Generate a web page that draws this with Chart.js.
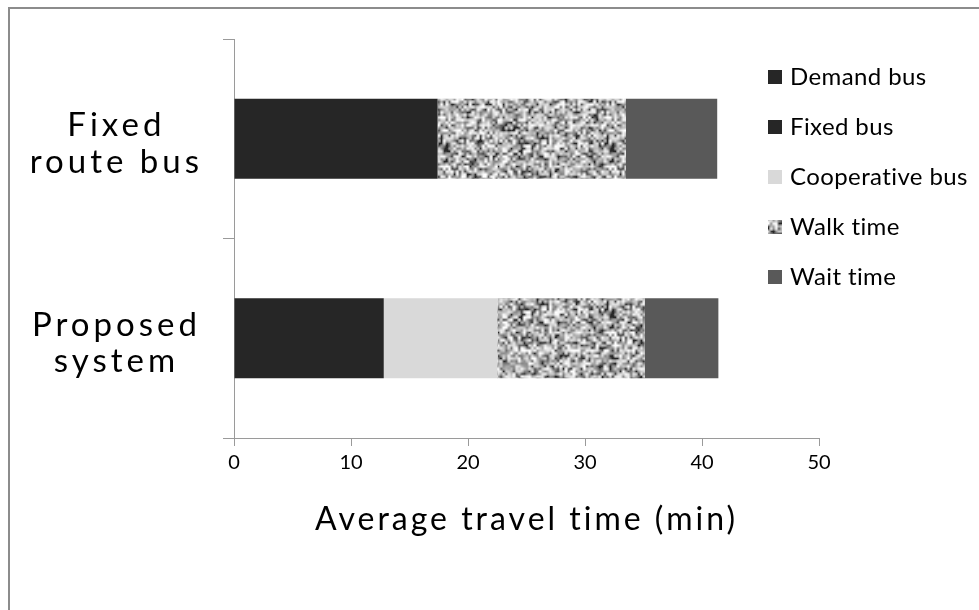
<!DOCTYPE html>
<html><head><meta charset="utf-8">
<script src="https://cdn.jsdelivr.net/npm/chart.js@4/dist/chart.umd.min.js"></script>
<style>html,body{margin:0;padding:0;background:#fff}#wrap{width:979px;height:610px;position:relative}</style>
</head><body><div id="wrap"><canvas id="c" width="979" height="610"></canvas></div>
<script>
// ---- data ----
const categories = [["Fixed", "route bus"], ["Proposed", "system"]];
const seriesNames = ["Demand bus", "Fixed bus", "Cooperative bus", "Walk time", "Wait time"];
const demandBus = [null, 12.8];
const fixedBus = [17.4, null];
const cooperativeBus = [null, 9.7];
const walkTime = [16.1, 12.6];
const waitTime = [7.8, 6.3];
const xMin = 0, xMax = 50, xStep = 10;
const xTitle = "Average travel time (min)";

// ---- styling ----
function makeNoise() {
  // deterministic, seamless speckle texture (styling only)
  let s = 987654321;
  const rnd = () => { s = (Math.imul(s, 1664525) + 1013904223) >>> 0; return s / 4294967296; };
  const n = 64, k = 2.6, T = Math.round(n * k);
  const base = new Float32Array(n * n);
  for (let i = 0; i < n * n; i++) base[i] = rnd();
  const tile = document.createElement('canvas'); tile.width = tile.height = T;
  const tc = tile.getContext('2d'); const img = tc.createImageData(T, T);
  for (let y = 0; y < T; y++) {
    for (let x = 0; x < T; x++) {
      const fx = x / k, fy = y / k;
      const x0 = Math.floor(fx) % n, y0 = Math.floor(fy) % n;
      const x1 = (x0 + 1) % n, y1 = (y0 + 1) % n;
      const ax = fx - Math.floor(fx), ay = fy - Math.floor(fy);
      const v0 = base[y0 * n + x0] * (1 - ax) + base[y0 * n + x1] * ax;
      const v1 = base[y1 * n + x0] * (1 - ax) + base[y1 * n + x1] * ax;
      let v = v0 * (1 - ay) + v1 * ay;
      v = 40 + 215 * Math.pow(Math.min(1, Math.max(0, (v - 0.1) / 0.85)), 0.6);
      const p = (y * T + x) * 4;
      img.data[p] = img.data[p + 1] = img.data[p + 2] = Math.round(v); img.data[p + 3] = 255;
    }
  }
  tc.putImageData(img, 0, 0);
  return tc.createPattern(tile, 'repeat');
}
const walkPattern = makeNoise();
const colors = ['#262626', '#262626', '#d9d9d9', walkPattern, '#595959'];
const seriesData = [demandBus, fixedBus, cooperativeBus, walkTime, waitTime];

const spacingPlugin = {
  id: 'spacing',
  beforeInit(chart) {
    const ctx = chart.ctx;
    const orig = ctx.fillText;
    ctx.fillText = function (t, x, y, mw) {
      const f = this.font;
      if (f.indexOf('33px') >= 0) this.letterSpacing = '4px';
      else if (f.indexOf('32px') >= 0) this.letterSpacing = '3px';
      else if (f.indexOf('24px') >= 0) this.letterSpacing = '0.4px';
      else this.letterSpacing = '0px';
      return mw === undefined ? orig.call(this, t, x, y) : orig.call(this, t, x, y, mw);
    };
  }
};

const framePlugin = {
  id: 'frame',
  beforeDraw(chart) {
    const ctx = chart.ctx;
    ctx.save();
    ctx.fillStyle = '#fff'; ctx.fillRect(0, 0, chart.width, chart.height);
    ctx.fillStyle = '#8c8c8c';
    ctx.fillRect(8, 7, chart.width - 8, 2);
    ctx.fillRect(8, 7, 2, chart.height - 7);
    ctx.restore();
  }
};

const legendPlugin = {
  id: 'sideLegend',
  afterDraw(chart) {
    const ctx = chart.ctx;
    ctx.save();
    ctx.font = '24px Lato';
    ctx.textBaseline = 'middle'; ctx.textAlign = 'left';
    chart.data.datasets.forEach((ds, i) => {
      const y = 77 + i * 50;
      ctx.fillStyle = ds.backgroundColor;
      ctx.fillRect(768, y - 7, 14, 14);
      ctx.fillStyle = '#000';
      ctx.fillText(ds.label, 790, y);
    });
    ctx.restore();
  }
};

new Chart(document.getElementById('c'), {
  type: 'bar',
  data: {
    labels: categories,
    datasets: seriesNames.map((name, i) => ({
      label: name,
      data: seriesData[i],
      backgroundColor: colors[i],
      borderWidth: 0,
      barPercentage: 0.4,
      categoryPercentage: 1
    }))
  },
  options: {
    indexAxis: 'y',
    responsive: false,
    animation: false,
    layout: { padding: { top: 39, right: 160, left: 0, bottom: 0 } },
    plugins: { legend: { display: false }, tooltip: { enabled: false } },
    scales: {
      x: {
        stacked: true, min: xMin, max: xMax,
        ticks: { stepSize: xStep, color: '#000', font: { family: 'Lato', size: 20 }, padding: 5, maxRotation: 0 },
        grid: { drawOnChartArea: false, drawTicks: true, tickLength: 8, color: '#9a9a9a' },
        border: { color: '#9a9a9a', width: 1 },
        title: { display: true, text: xTitle, color: '#000', font: { family: 'Lato', size: 32 }, padding: { top: 0, bottom: 71 } },
        afterFit(scale) { scale.height = 172; }
      },
      y: {
        stacked: true,
        ticks: { color: '#000', font: { family: 'Lato', size: 33, lineHeight: 1.1 }, padding: 38, crossAlign: 'center', labelOffset: 5 },
        grid: { drawOnChartArea: false, drawTicks: true, tickLength: 11, color: '#9a9a9a', offset: true },
        border: { color: '#9a9a9a', width: 1 },
        afterFit(scale) { scale.width = 234; scale.paddingTop = 0; scale.paddingBottom = 0; }
      }
    }
  },
  plugins: [spacingPlugin, framePlugin, legendPlugin]
});
</script>
</body></html>
